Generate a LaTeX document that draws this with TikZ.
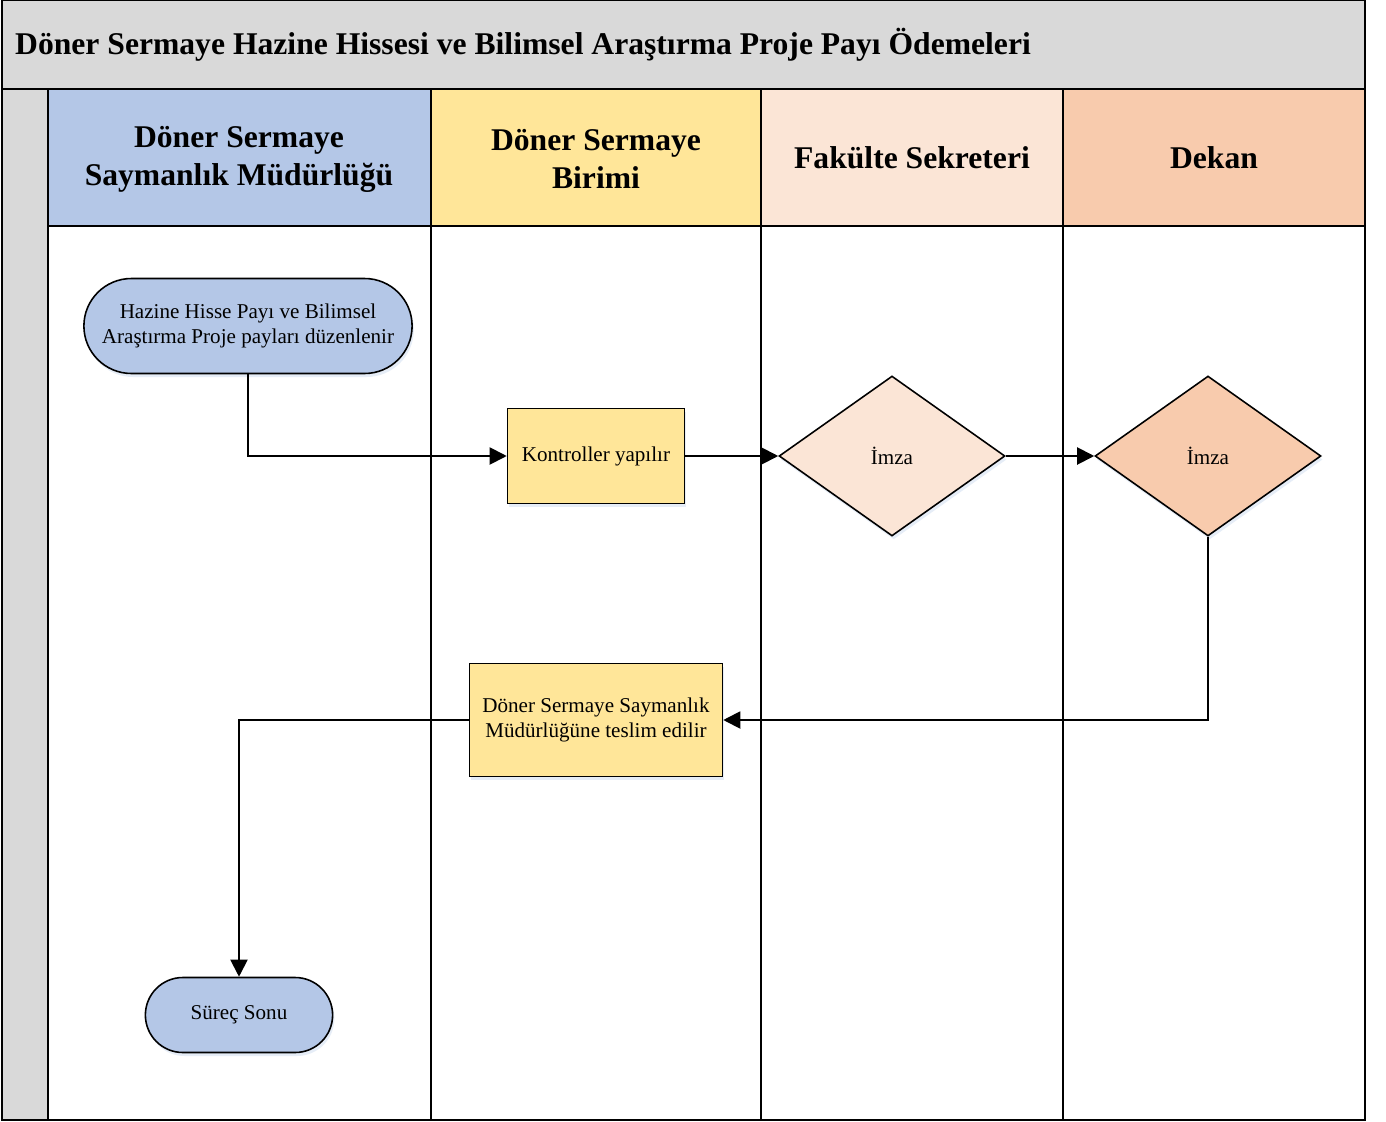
\documentclass[tikz,border=0pt]{standalone}
\usepackage{fontspec}
\setmainfont{Liberation Serif}
\usepackage{xcolor}
\usetikzlibrary{arrows.meta,shapes.geometric,shapes.misc,shadows}

\definecolor{framegray}{HTML}{D9D9D9}
\definecolor{laneblue}{HTML}{B4C7E7}
\definecolor{laneyellow}{HTML}{FFE699}
\definecolor{lanepeach}{HTML}{FBE5D6}
\definecolor{laneorange}{HTML}{F8CBAD}
\definecolor{shadowblue}{HTML}{D6E2F2}

\tikzset{
  lanehead/.style={align=center, font=\bfseries\fontsize{18}{21.6}\selectfont},
  boxshadow/.style={drop shadow={shadow xshift=1pt, shadow yshift=-2pt, fill=shadowblue, opacity=0.6}},
  terminal/.style={rounded rectangle, draw=black, line width=0.9pt, fill=laneblue, align=center, boxshadow, font=\fontsize{12}{14.4}\selectfont},
  process/.style={rectangle, draw=black, line width=0.9pt, fill=laneyellow, align=center, boxshadow, font=\fontsize{12}{14.4}\selectfont},
  decision/.style={diamond, draw=black, line width=0.9pt, inner sep=0pt, minimum width=4.52cm, minimum height=3.2cm, boxshadow, font=\fontsize{12}{14.4}\selectfont},
  flow/.style={line width=1.1pt, -{Triangle[length=0.34cm, width=0.34cm]}}
}

\begin{document}
\begin{tikzpicture}[x=0.02cm, y=-0.02cm]
\useasboundingbox (0,0) rectangle (1386,1122);
\fill[white] (0,0) rectangle (1386,1122);
\fill[framegray] (2,0) rectangle (1365,89);
\fill[framegray] (2,89) rectangle (48,1120);
\fill[laneblue] (48,89) rectangle (431,226);
\fill[laneyellow] (431,89) rectangle (761,226);
\fill[lanepeach] (761,89) rectangle (1063,226);
\fill[laneorange] (1063,89) rectangle (1365,226);
\draw[black, line width=1.1pt] (2,0) rectangle (1365,1120);
\draw[black, line width=1.1pt] (2,89) -- (1365,89);
\draw[black, line width=1.1pt] (48,226) -- (1365,226);
\draw[black, line width=1.1pt] (48,89) -- (48,1120);
\draw[black, line width=1.1pt] (431,89) -- (431,1120);
\draw[black, line width=1.1pt] (761,89) -- (761,1120);
\draw[black, line width=1.1pt] (1063,89) -- (1063,1120);

\node[anchor=west, font=\bfseries\fontsize{18}{21.6}\selectfont] (title) at (9,45) {Döner Sermaye Hazine Hissesi ve Bilimsel Araştırma Proje Payı Ödemeleri};
\node[lanehead] (saymanlik) at (239,159) {Döner Sermaye\\Saymanlık Müdürlüğü};
\node[lanehead] (birim) at (596,159) {Döner Sermaye\\Birimi};
\node[lanehead] (sekreter) at (912,158) {Fakülte Sekreteri};
\node[lanehead] (dekan) at (1214,158) {Dekan};

\node[terminal, minimum width=6.8cm, minimum height=1.9cm] (start) at (248,326) {Hazine Hisse Payı ve Bilimsel\\Araştırma Proje payları düzenlenir};
\node[process, minimum width=3.54cm, minimum height=1.9cm] (check) at (596,456) {Kontroller yapılır};
\node[decision, fill=lanepeach] (sign1) at (892,456) {İmza};
\node[decision, fill=laneorange] (sign2) at (1208,456) {İmza};
\node[process, minimum width=5.06cm, minimum height=2.26cm] (deliver) at (596,720) {Döner Sermaye Saymanlık\\Müdürlüğüne teslim edilir};
\node[terminal, minimum width=3.98cm, minimum height=1.5cm] (end) at (239,1015) {Süreç Sonu};

\draw[flow] (start.south) |- (check.west);
\draw[flow] (check.east) -- (sign1.west);
\draw[flow] (sign1.east) -- (sign2.west);
\draw[flow] (sign2.south) |- (deliver.east);
\draw[flow] (deliver.west) -| (end.north);
\end{tikzpicture}
\end{document}
